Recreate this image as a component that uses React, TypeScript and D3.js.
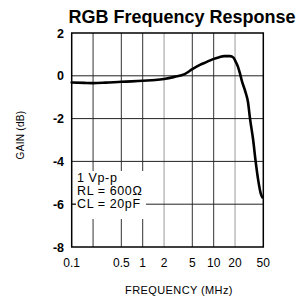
import React from "react";
import * as d3 from "d3";

const freqs = [0.1, 0.15, 0.2, 0.3, 0.5, 0.7, 1, 1.5, 2, 2.8, 3.9, 5, 6.4, 8, 9.8, 12, 14, 17, 19, 20, 22, 23.5, 25, 28, 30.5, 32.5, 36, 39, 42.5, 46, 48.5];
const gains = [-0.31, -0.33, -0.34, -0.32, -0.28, -0.26, -0.23, -0.2, -0.15, -0.05, 0.08, 0.31, 0.51, 0.65, 0.78, 0.87, 0.92, 0.92, 0.85, 0.72, 0.42, 0.1, -0.25, -0.75, -1.25, -2, -3, -4, -4.9, -5.5, -5.68];
const xTicks = [0.1, 0.5, 1, 2, 5, 10, 20, 50];
const xGridDark = [0.2, 0.5, 1, 5, 10];
const xGridLight = [2, 20];
const yTicks = [2, 0, -2, -4, -6, -8];
const yGrid = [0, -2, -4, -6];
const notes = ["1 Vp-p", "RL = 600Ω", "CL = 20pF"];

const W = 304, H = 302;
const L = 71.7, R = 263.3, T = 33, B = 247;

export default function App() {
  const x = d3.scaleLog().domain([0.1, 50]).range([L, R]);
  const y = d3.scaleLinear().domain([-8, 2]).range([B, T]);
  const line = d3.line<number>().x((_, i) => x(freqs[i])).y((g) => y(g)).curve(d3.curveMonotoneX);
  const font = "'Liberation Sans', Arial, sans-serif";
  return (
    <svg width={W} height={H} style={{ position: "absolute", left: 0, top: 0 }}>
      <rect width={W} height={H} fill="#fff" />
      <text x={182} y={23} textAnchor="middle" fontFamily={font} fontWeight="bold" fontSize={18} fill="#000">
        RGB Frequency Response
      </text>
      {xGridLight.map((f) => (
        <line key={"l" + f} x1={x(f)} x2={x(f)} y1={T} y2={B} stroke="#aaa" strokeWidth={1.2} />
      ))}
      {xGridDark.map((f) => (
        <line key={"d" + f} x1={x(f)} x2={x(f)} y1={T} y2={B} stroke="#333" strokeWidth={1} />
      ))}
      {yGrid.map((v) => (
        <line key={"h" + v} x1={L} x2={R} y1={y(v)} y2={y(v)} stroke="#222" strokeWidth={1} />
      ))}
      <rect x={76} y={171} width={70} height={48} fill="#fff" />
      <line x1={L} x2={76} y1={y(-6)} y2={y(-6)} stroke="#222" strokeWidth={1} />
      {notes.map((t, i) => (
        <text key={t} x={77} y={182 + i * 13} fontFamily={font} fontSize={12.5} letterSpacing={0.6} fill="#000">
          {t}
        </text>
      ))}
      <rect x={L} y={T} width={R - L} height={B - T} fill="none" stroke="#000" strokeWidth={1.5} />
      <path d={line(gains) || ""} fill="none" stroke="#000" strokeWidth={2.6} strokeLinejoin="round" strokeLinecap="round" />
      {yTicks.map((v) => (
        <text key={"y" + v} x={64} y={y(v) + 4.5} textAnchor="end" fontFamily={font} fontWeight="bold" fontSize={12.5} fill="#000">
          {String(v)}
        </text>
      ))}
      {xTicks.map((f) => (
        <text key={"x" + f} x={x(f)} y={267} textAnchor="middle" fontFamily={font} fontSize={12} fill="#000">
          {String(f)}
        </text>
      ))}
      <text x={179} y={294} textAnchor="middle" fontFamily={font} fontSize={11} letterSpacing={0.4} fill="#000">
        FREQUENCY (MHz)
      </text>
      <text transform="translate(24,135) rotate(-90)" textAnchor="middle" fontFamily={font} fontSize={10} letterSpacing={0.3} fill="#000">
        GAIN (dB)
      </text>
    </svg>
  );
}
